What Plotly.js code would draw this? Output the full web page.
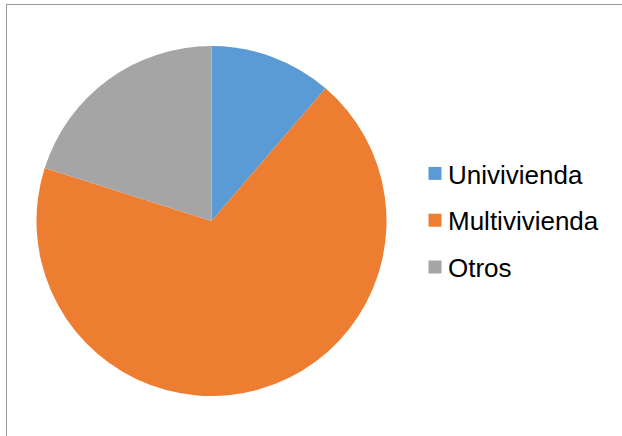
<!DOCTYPE html>
<html>
<head>
<meta charset="utf-8">
<script src="https://cdn.plot.ly/plotly-3.0.1.min.js"></script>
<style>
  html, body { margin: 0; padding: 0; background: #fff; }
  #wrap { position: relative; width: 622px; height: 436px; overflow: hidden; }
  #chart { position: absolute; left: 0; top: 0; width: 622px; height: 436px; }
  #frame { position: absolute; left: 6px; top: 4px; width: 700px; height: 500px;
           border-left: 1.5px solid #9a9a9a; border-top: 1.5px solid #9a9a9a; pointer-events: none; }
</style>
</head>
<body>
<div id="wrap">
  <div id="chart"></div>
  <div id="frame"></div>
</div>
<script>
const labels = ["Univivienda", "Multivivienda", "Otros"];
const values = [11.3, 68.6, 20.1];
const colors = ["#5B9BD5", "#ED7D31", "#A5A5A5"];

const W = 622, H = 436;
const trace = {
  type: "pie",
  labels: labels,
  values: values,
  sort: false,
  direction: "clockwise",
  rotation: 0,
  textinfo: "none",
  hoverinfo: "label+percent",
  marker: { colors: colors, line: { color: "#ffffff", width: 0 } },
  domain: { x: [36.5 / W, 386.5 / W], y: [(H - 396) / H, (H - 46) / H] }
};

const layout = {
  width: W, height: H,
  margin: { l: 0, r: 0, t: 0, b: 0, pad: 0 },
  paper_bgcolor: "rgba(0,0,0,0)",
  plot_bgcolor: "rgba(0,0,0,0)",
  showlegend: true,
  legend: {
    x: 408 / W, xanchor: "left",
    y: (H - 152) / H, yanchor: "top",
    font: { family: "Liberation Sans, Arial, sans-serif", size: 26, color: "#000000" },
    bgcolor: "rgba(0,0,0,0)"
  },
  font: { family: "Liberation Sans, Arial, sans-serif" }
};

Plotly.newPlot("chart", [trace], layout, { displayModeBar: false, staticPlot: true }).then(function (gd) {
  // widen legend row spacing and move the swatches next to the text, as in the reference
  gd.querySelectorAll(".legend .scrollbox, .legend").forEach(function (el) {
    el.removeAttribute("clip-path");
    el.style.clipPath = "none";
  });
  const items = gd.querySelectorAll(".legend .traces");
  items.forEach(function (g, i) {
    const t = g.getAttribute("transform") || "";
    const m = /translate\(\s*([-\d.]+)[ ,]+([-\d.]+)\s*\)/.exec(t);
    const x = m ? parseFloat(m[1]) : 0;
    const y = m ? parseFloat(m[2]) : 0;
    g.setAttribute("transform", "translate(" + x + "," + (y - 2 + i * 10) + ")");
    g.querySelectorAll("path.legendpie").forEach(function (p) {
      p.setAttribute("d", "M6.5,6.5H-6.5V-6.5H6.5Z");
      p.setAttribute("transform", "translate(27,0)");
    });
  });
});
</script>
</body>
</html>
